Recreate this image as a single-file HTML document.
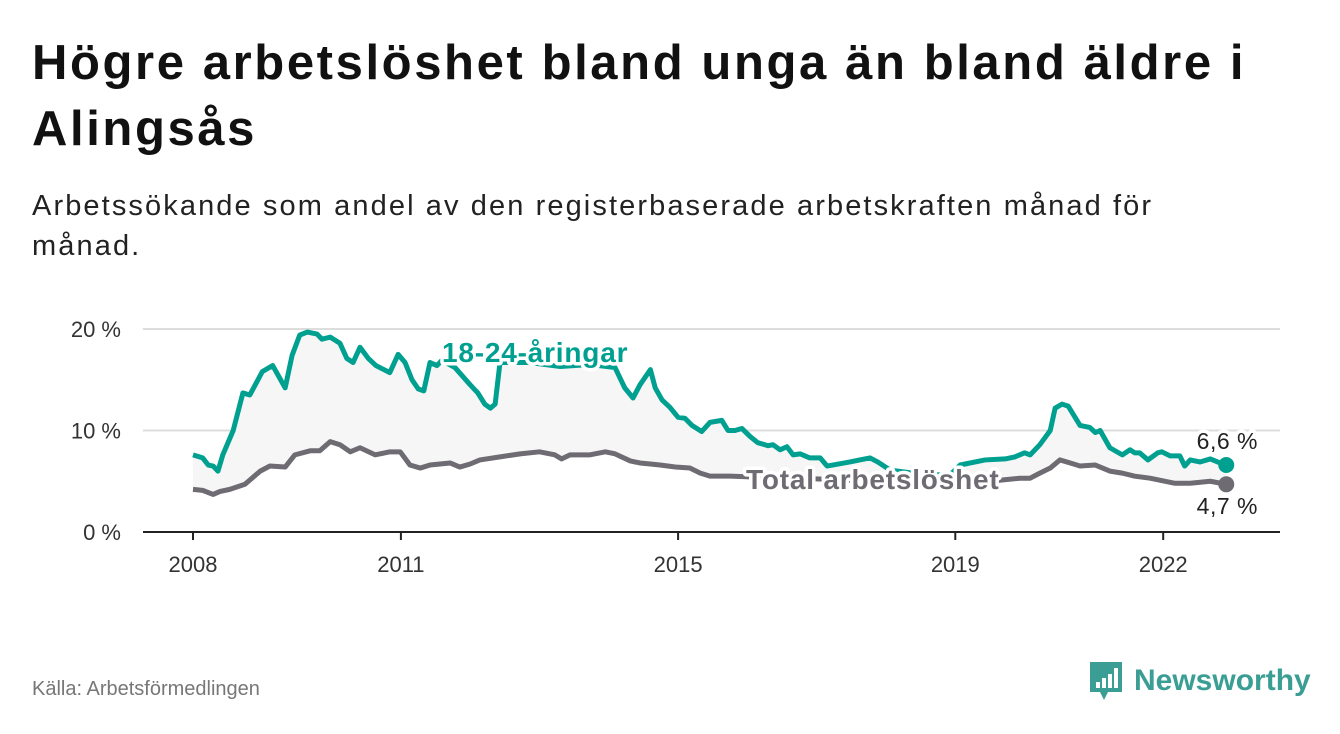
<!DOCTYPE html>
<html><head><meta charset="utf-8">
<style>
body{margin:0;background:#fff;width:1340px;height:734px;overflow:hidden;font-family:"Liberation Sans",sans-serif;}
#title{position:absolute;left:32px;top:30px;width:1300px;font-size:49px;letter-spacing:2.6px;font-weight:bold;line-height:66px;color:#111;margin:0;white-space:nowrap}
#sub{position:absolute;left:32px;top:186px;width:1300px;font-size:29px;letter-spacing:2.1px;line-height:40px;color:#222;margin:0;white-space:nowrap}
#src{position:absolute;left:32px;top:678px;font-size:20px;color:#777}
</style></head><body>
<h1 id="title">Högre arbetslöshet bland unga än bland äldre i<br>Alingsås</h1>
<p id="sub">Arbetssökande som andel av den registerbaserade arbetskraften månad för<br>månad.</p>
<div id="src">Källa: Arbetsförmedlingen</div>
<svg id="logo" style="position:absolute;left:1088px;top:660px" width="230" height="46">
<path d="M2 2h32v30H20l-4 8-4-8H2z" fill="#3a9e95"/>
<rect x="8" y="22" width="4" height="6" fill="#fff"/><rect x="14" y="18" width="4" height="10" fill="#fff"/><rect x="20" y="14" width="4" height="14" fill="#fff"/><rect x="26" y="8" width="4" height="20" fill="#fff"/>
<text x="46" y="30" font-size="30" font-weight="bold" fill="#3a9e95" font-family="Liberation Sans, sans-serif">Newsworthy</text>
</svg>
<svg id="chart" style="position:absolute;left:0;top:0" width="1340" height="734"></svg>
<script>
const yTicks=[0,10,20];
const yTickLabels=["0 %","10 %","20 %"];
const xTicks=[2008,2011,2015,2019,2022];
const youthDates=[2008.0,2008.14,2008.22,2008.29,2008.36,2008.43,2008.58,2008.72,2008.82,2009.0,2009.15,2009.33,2009.43,2009.54,2009.65,2009.79,2009.86,2009.98,2010.12,2010.22,2010.31,2010.41,2010.53,2010.64,2010.84,2010.96,2011.06,2011.16,2011.25,2011.33,2011.42,2011.52,2011.59,2011.78,2012.0,2012.11,2012.21,2012.29,2012.36,2012.43,2012.86,2013.3,2013.73,2014.09,2014.23,2014.35,2014.45,2014.6,2014.67,2014.77,2014.88,2015.0,2015.1,2015.2,2015.34,2015.46,2015.63,2015.72,2015.82,2015.92,2016.04,2016.15,2016.3,2016.37,2016.47,2016.57,2016.66,2016.76,2016.9,2017.05,2017.15,2017.48,2017.62,2017.77,2017.88,2018.06,2018.49,2018.92,2019.07,2019.43,2019.72,2019.86,2020.0,2020.08,2020.22,2020.37,2020.44,2020.54,2020.63,2020.8,2020.94,2021.02,2021.09,2021.23,2021.41,2021.52,2021.59,2021.66,2021.78,2021.92,2021.98,2022.1,2022.24,2022.31,2022.39,2022.53,2022.68,2022.82,2022.91];
const youthValues=[7.6,7.3,6.6,6.5,6.0,7.6,10.0,13.7,13.5,15.8,16.4,14.2,17.4,19.4,19.7,19.5,19.0,19.2,18.6,17.1,16.7,18.2,17.1,16.4,15.7,17.5,16.7,15.0,14.1,13.9,16.7,16.4,16.9,16.2,14.5,13.7,12.6,12.2,12.6,16.7,16.7,16.3,16.5,16.2,14.2,13.2,14.5,16.0,14.2,13.0,12.3,11.3,11.2,10.5,9.9,10.8,11.0,10.0,10.0,10.2,9.4,8.8,8.5,8.6,8.1,8.4,7.6,7.7,7.3,7.3,6.5,6.9,7.1,7.3,6.9,6.1,5.7,5.6,6.6,7.1,7.2,7.4,7.8,7.6,8.6,10.0,12.2,12.6,12.4,10.5,10.3,9.8,10.0,8.3,7.6,8.1,7.8,7.8,7.1,7.8,7.9,7.5,7.5,6.5,7.1,6.9,7.2,6.8,6.6];
const totalDates=[2008.0,2008.14,2008.29,2008.39,2008.53,2008.75,2008.97,2009.11,2009.33,2009.47,2009.69,2009.83,2009.98,2010.12,2010.27,2010.41,2010.63,2010.84,2010.99,2011.13,2011.28,2011.42,2011.71,2011.85,2012.0,2012.14,2012.43,2012.72,2013.0,2013.22,2013.32,2013.44,2013.73,2013.95,2014.09,2014.31,2014.45,2014.6,2014.74,2014.96,2015.17,2015.32,2015.46,2015.75,2016.18,2016.76,2017.48,2018.2,2018.92,2019.64,2019.93,2020.08,2020.22,2020.37,2020.51,2020.66,2020.8,2021.02,2021.23,2021.41,2021.59,2021.81,2021.95,2022.17,2022.39,2022.68,2022.91];
const totalValues=[4.2,4.1,3.7,4.0,4.2,4.7,6.0,6.5,6.4,7.6,8.0,8.0,8.9,8.6,7.9,8.3,7.6,7.9,7.9,6.6,6.3,6.6,6.8,6.4,6.7,7.1,7.4,7.7,7.9,7.6,7.2,7.6,7.6,7.9,7.7,7.0,6.8,6.7,6.6,6.4,6.3,5.8,5.5,5.5,5.4,5.3,5.1,5.0,4.9,5.1,5.3,5.3,5.8,6.3,7.1,6.8,6.5,6.6,6.0,5.8,5.5,5.3,5.1,4.8,4.8,5.0,4.7];

const X=d=>193+(d-2008)*69.3;
const Y=v=>532-v*10.15;
const svg=document.getElementById('chart');
const NS='http://www.w3.org/2000/svg';
function mk(tag,attrs,parent){const e=document.createElementNS(NS,tag);for(const k in attrs)e.setAttribute(k,attrs[k]);(parent||svg).appendChild(e);return e;}

yTicks.forEach((t,i)=>{
  if(t>0){const g=mk('line',{x1:143,x2:1280,y1:Y(t),y2:Y(t),stroke:'#ddd','stroke-width':2});
  
  }
  const l=mk('text',{x:121,y:Y(t)+8,'text-anchor':'end','font-size':22,fill:'#333'});
  l.textContent=yTickLabels[i];
  
  
});
const area=[];
youthDates.forEach((d,i)=>area.push(X(d)+','+Y(youthValues[i])));
for(let i=totalDates.length-1;i>=0;i--)area.push(X(totalDates[i])+','+Y(totalValues[i]));
const a=mk('polygon',{points:area.join(' '),fill:'#f6f6f6'});


const ax=mk('line',{x1:143,x2:1280,y1:532,y2:532,stroke:'#222','stroke-width':2});


xTicks.forEach(t=>{
  mk('line',{x1:X(t),x2:X(t),y1:532,y2:540,stroke:'#222','stroke-width':2});
  const l=mk('text',{x:X(t),y:572,'text-anchor':'middle','font-size':22,fill:'#333'});
  l.textContent=t;
  
  
});
function line(dates,vals,color,name){
  const p=mk('polyline',{points:dates.map((d,i)=>X(d)+','+Y(vals[i])).join(' '),fill:'none',stroke:color,'stroke-width':5,'stroke-linejoin':'round'});
  
  
  const n=dates.length-1;
  const c=mk('circle',{cx:X(dates[n]),cy:Y(vals[n]),r:8,fill:color});
  
  
}
line(totalDates,totalValues,'#6e6b73','total-line');
line(youthDates,youthValues,'#00a091','youth-line');
function label(x,y,txt,color,size,weight,anchor,name,ls){
  const t=mk('text',{x:x,y:y,'font-size':size,'font-weight':weight,fill:color,'text-anchor':anchor,stroke:'#fff','stroke-width':7,'paint-order':'stroke','stroke-linejoin':'round','letter-spacing':ls});
  t.textContent=txt;
  
  
}
label(442,362,'18-24-åringar','#00a091',28,'bold','start','youth-series-label','0.8px');
label(746,489,'Total arbetslöshet','#6e6b73',28,'bold','start','total-series-label','0.8px');
label(1258,449,'6,6 %','#222',23,'normal','end','youth-end-value','0.5px');
label(1258,514,'4,7 %','#222',23,'normal','end','total-end-value','0.5px');
</script>
</body></html>
